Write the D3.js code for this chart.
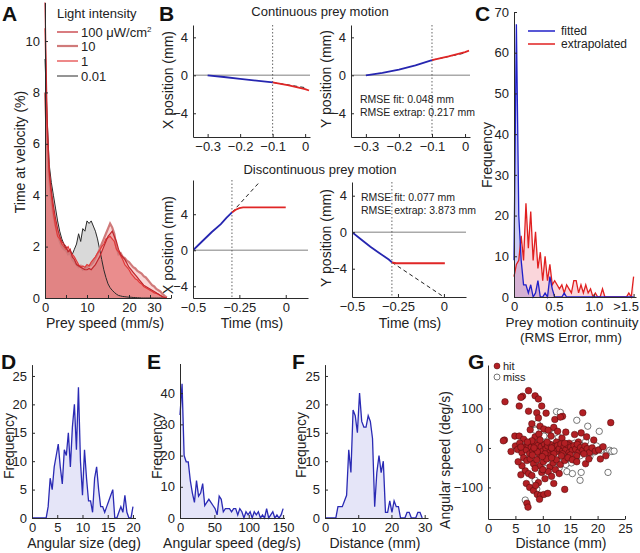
<!DOCTYPE html>
<html><head><meta charset="utf-8">
<script src="https://cdn.jsdelivr.net/npm/d3@7"></script>
<style>body{margin:0;background:#fff}svg{display:block}</style>
</head><body><svg id="c" width="640" height="553"></svg>
<script>
// ---------- DATA ----------
// Panel A: time at velocity (%) vs prey speed (mm/s), bins every 0.5 mm/s
const speedBins = d3.range(0, 29.01, 0.5);
const a100 = [11.5,7.0,5.0,4.2,3.6,3.1,2.7,2.4,2.2,2.1,2.0,1.8,1.9,1.6,1.5,1.3,1.25,1.2,1.15,1.1,1.1,1.15,1.1,1.2,1.3,1.45,1.6,1.8,2.0,2.2,2.4,2.5,2.6,2.4,2.2,1.9,1.7,1.6,1.5,1.35,1.2,1.1,1.0,0.9,0.8,0.7,0.6,0.5,0.45,0.4,0.35,0.3,0.25,0.2,0.15,0.1,0.05,0.02,0];
const a10 = [8.0,6.0,4.6,3.8,3.2,2.8,2.5,2.2,2.0,1.9,1.85,1.7,1.75,1.5,1.4,1.3,1.2,1.25,1.1,1.15,1.2,1.25,1.3,1.4,1.55,1.7,1.9,2.1,2.3,2.5,2.7,2.9,2.75,2.5,2.0,1.7,1.75,1.6,1.55,1.45,1.4,1.3,1.2,1.15,1.05,1.0,0.95,0.85,0.8,0.7,0.6,0.5,0.45,0.35,0.3,0.25,0.15,0.08,0.02];
const a1 = [10.5,6.5,4.8,4.0,3.3,2.8,2.4,2.3,2.1,2.0,1.9,2.0,1.8,1.7,1.6,1.45,1.3,1.2,1.25,1.2,1.3,1.25,1.4,1.5,1.6,1.75,1.85,2.0,2.1,2.3,2.35,2.4,2.3,2.2,1.9,1.8,1.65,1.5,1.3,1.2,1.1,0.95,0.85,0.75,0.7,0.6,0.55,0.45,0.4,0.35,0.3,0.25,0.2,0.18,0.15,0.1,0.05,0.02,0];
const a001 = [9.3,7.0,5.2,4.5,4.0,3.5,3.0,2.6,2.3,2.1,1.9,1.8,1.85,1.7,1.9,2.1,2.5,2.2,2.7,2.6,3.0,2.9,3.0,2.8,2.6,2.3,1.9,1.5,1.1,0.8,0.55,0.4,0.3,0.22,0.15,0.1,0.08,0.06,0.05,0.04,0.03,0.03,0.02,0.02,0.01,0.01,0,0,0,0,0,0,0,0,0,0,0,0,0];
const intensityLabels = ["100 μW/cm²","10","1","0.01"];
const aXTicks = [0,5,10,15,20,25,30], aXLabels = {0:"0",10:"10",20:"20",30:"30"};
const aYTicks = [0,2,4,6,8,10];

// Panel B: example trajectories (time ms, position mm)
const b1FitT = [-0.3,-0.25,-0.2,-0.15,-0.1], b1FitV = [0,-0.18,-0.38,-0.56,-0.75];
const b1ExtT = [-0.1,-0.05,0,0.012], b1ExtV = [-0.75,-1.05,-1.45,-1.6];
const b1DashT = [-0.1,0], b1DashV = [-0.75,-1.3];
const b2FitT = [-0.3,-0.25,-0.2,-0.15,-0.1], b2FitV = [0,0.25,0.6,1.05,1.6];
const b2ExtT = [-0.1,-0.05,0,0.012], b2ExtV = [1.6,2.0,2.45,2.6];
const b2DashT = [-0.1,0], b2DashV = [1.6,2.35];
const b3FitT = [-0.5,-0.45,-0.4,-0.35,-0.32,-0.29], b3FitV = [0,1.0,2.0,2.9,3.6,4.2];
const b3ExtT = [-0.29,-0.27,-0.25,-0.23,-0.2,-0.1,0], b3ExtV = [4.2,4.5,4.68,4.75,4.75,4.75,4.75];
const b3DashT = [-0.29,-0.14], b3DashV = [4.2,7.6];
const b4FitT = [-0.5,-0.45,-0.4,-0.35,-0.3,-0.283], b4FitV = [0,-0.8,-1.6,-2.3,-3.0,-3.3];
const b4ExtT = [-0.283,-0.26,-0.2,-0.1,0.005], b4ExtV = [-3.3,-3.4,-3.4,-3.4,-3.4];
const b4DashT = [-0.283,0], b4DashV = [-3.3,-7.1];
const bBreak = [-0.1,-0.1,-0.29,-0.283];
const rmseTexts = [["RMSE fit: 0.048 mm","RMSE extrap: 0.217 mm"],["RMSE fit: 0.077 mm","RMSE extrap: 3.873 mm"]];

// Panel C: RMS error histograms (bin width 0.03 mm, last bin >1.5)
const cBins = d3.range(0, 1.501, 0.03);
const cFitted = [9,67,20,9,3,3,1,3,0,1,4,0,0,1,0,5,2,0,0,0,0,1,0,0,0,0,0,0,0,0,0,0,0,0,0,0,0,0,0,0,0,0,0,0,0,0,0,0,0,0,0];
const cExtrap = [5,8,9,15,9,23,12,21,9,16,7,11,4,10,4,8,3,4,3,2,3,1,3,2,1,4,4,1,3,1,3,1,2,0,1,0,0,2,0,0,0,0,0,0,0,0,0,0,1,0,5];
const cXTicks = [0,0.5,1.0,1.5], cXLabels = ["0","0.5","1.0",">1.5"];
const cYTicks = [0,10,20,30,40,50,60,70];

// Panel D: angular size (deg)
const dBins = d3.range(0, 20.01, 0.4);
const dFreq = [0,0,0,0,0,0,0,0,2,7,5,9,11,13,9,6,12,11,15,9,16,20,12,23,10,4,12,7,3,3,1,7,9,5,2,2,1,2,3,4,5,0,0,1,2,1,4,1,0,0,2];
// Panel E: angular speed (deg/s)
const eBins = d3.range(0, 150.01, 3);
const eFreq = [33,43,20,18,18,12,8,5,12,7,8,11,4,5,6,5,4,3,1,7,6,2,3,3,3,2,3,3,1,3,2,0,2,1,2,0,2,1,2,0,1,0,3,0,1,2,0,1,0,1,3];
// Panel F: distance (mm)
const fBins = d3.range(0, 29.3, 0.65);
const fFreq = [0,0,0,0,0,0,2,2,2,3,4,12,8,19,18,15,22,17,16,16,18,17,14,2,8,11,8,10,1,1,3,1,3,2,2,0,0,0,1,1,0,0,0,1,1,0];

// Panel G: distance (mm) vs angular speed (deg/s)
const hitDist = [7.4,6.3,6.0,3.1,8.6,9.2,9.8,5.7,7.4,8.9,9.2,8.0,7.7,9.5,10.6,12.2,13.6,13.2,17.3,22.4,10.2,11.0,12.0,12.7,14.2,15.8,17.0,18.0,19.3,3.0,4.9,5.7,6.5,8.6,9.3,11.5,13.5,12.5,16.5,14.8,
 2.8,4.2,5.0,5.4,5.8,6.2,6.6,7.0,7.3,7.6,7.9,8.2,8.5,8.8,9.1,9.4,9.7,10.0,10.3,10.6,10.9,11.2,11.5,11.8,12.1,12.4,12.7,13.0,13.3,13.6,13.9,14.2,14.5,14.8,15.1,15.4,15.7,16.0,16.3,16.6,16.9,17.3,17.7,18.1,18.5,19.0,19.6,20.2,21.0,21.5,20.5,8.0,9.5,10.8,12.0,11.0,7.2,6.0,13.6,15.0,16.2,17.5,9.0,10.4,8.4,11.6,14.0,
 6.5,7.1,7.7,8.3,8.9,9.5,10.1,10.7,11.3,11.9,12.5,13.2,14.0,14.6,15.4,16.2,17.8,18.4,6.8,7.4,8.0,8.6,9.2,9.8,10.4,11.0,11.6,12.3,13.0,6.2,7.0,7.6,8.3,9.0,9.6,10.2,10.9,14.0,7.1,7.3,8.7,9.4,12.0,6.0,5.5,10.0,11.6,13.4,8.1,9.9];
const hitAng = [145,131,128,117,132,124,106,106,93,89,76,61,46,55,88,72,80,78,89,64,48,45,52,42,40,34,38,28,20,20,30,30,22,28,35,30,25,15,15,12,
 18,-9,5,-4,12,-12,3,-5,8,-15,2,-8,12,-3,6,-18,3,-8,10,-2,5,-12,8,-4,3,-10,6,-2,10,-8,4,-5,8,-12,2,-6,6,-3,9,-10,1,-6,5,-2,-12,0,-8,-5,3,-20,-28,18,20,15,-15,-20,15,2,-15,-18,-20,-15,-10,-15,0,0,12,
 -25,-32,-28,-40,-30,-45,-35,-28,-48,-38,-30,-42,-32,-25,-30,-35,-40,-28,-58,-65,-70,-52,-88,-62,-78,-60,-72,-55,-65,-45,-90,-100,-108,-118,-120,-118,-115,-105,-140,-150,-95,-130,-90,-68,-35,-55,-25,-20,-18,-22];
const missDist = [12.5,13.2,16.2,18.2,20.3,9.0,11.0,9.5,12.8,14.0,14.5,15.2,15.8,16.4,17.2,17.8,18.5,19.5,20.6,21.8,22.2,22.6,23.0,14.8,15.0,15.2,14.4,15.4,17.0,16.8,21.9,8.6,8.9,6.8,11.0,11.6,10.6,12.4,12.9,13.4,13.8,9.6,10.2,7.5,12.0,16.0,18.6,13.6,11.3,10.2,8.6,17.0,13.0,14.2,12.2,15.6,16.8,19.8];
const missAng = [92,90,70,55,42,62,38,48,28,10,5,2,12,-2,6,16,-6,-10,-6,-12,-6,-9,-8,-18,-25,-38,-60,-65,-62,-82,-62,-82,-104,-132,-8,-30,-52,-5,2,6,-3,8,-20,4,-45,-32,-22,-24,9,30,45,-12,-50,-42,38,0,-20,5];
const gXTicks = [0,5,10,15,20,25], gYTicks = [-100,0,100];

// ---------- DRAWING ----------
const FONT = "'Liberation Sans', Arial, Helvetica, sans-serif";
const svg = d3.select("#c");
svg.append("rect").attr("width",640).attr("height",553).attr("fill","#fff");
const INK = "#2b2b2b";

function axes(x, y, xTicks, yTicks, xFmt, yFmt) {
  const gx = svg.append("g").attr("transform", `translate(0,${y.range()[0]})`)
    .call(d3.axisBottom(x).tickValues(xTicks).tickFormat(xFmt || d3.format("")).tickSizeInner(-3).tickSizeOuter(0).tickPadding(5));
  const gy = svg.append("g").attr("transform", `translate(${x.range()[0]},0)`)
    .call(d3.axisLeft(y).tickValues(yTicks).tickFormat(yFmt || d3.format("")).tickSizeInner(-3).tickSizeOuter(0).tickPadding(5));
  [gx, gy].forEach(g => {
    g.select(".domain").attr("stroke", INK).attr("stroke-width", 1);
    g.selectAll(".tick line").attr("stroke", INK);
    g.selectAll("text").attr("font-size", 13).attr("fill", "#222").attr("font-family", FONT);
  });
  return [gx, gy];
}
function text(x, y, s, opts = {}) {
  const t = svg.append("text").attr("x", x).attr("y", y).text(s)
    .attr("font-family", FONT).attr("font-size", opts.size || 14).attr("fill", opts.fill || "#222")
    .attr("text-anchor", opts.anchor || "middle");
  if (opts.weight) t.attr("font-weight", opts.weight);
  if (opts.rotate) t.attr("transform", `rotate(-90,${x},${y})`);
  return t;
}
function letter(x, y, s) { text(x, y, s, {size: 21, weight: "bold", anchor: "start", fill: "#111"}); }

// ---- Panel A ----
{
  const x = d3.scaleLinear().domain([0, 30]).range([45, 171]);
  const y = d3.scaleLinear().domain([0, 11.5]).range([298, 2.5]);
  const series = [
    {v: a001, line: "#2a2a2a", fill: "#c0c0c0", op: 0.6, w: 1},
    {v: a10, line: "#d07a7a", fill: "#f2a5a5", op: 0.45, w: 2.2},
    {v: a1, line: "#e23a3a", fill: "#e45a5a", op: 0.35, w: 1.2},
    {v: a100, line: "#c0262c", fill: "#dd5a5a", op: 0.35, w: 1.2},
  ];
  const area = v => d3.area().x((d, i) => x(speedBins[i])).y0(y(0)).y1(d => y(d))(v);
  const line = v => d3.line().x((d, i) => x(speedBins[i])).y(d => y(d))(v);
  series.forEach(s => svg.append("path").attr("d", area(s.v)).attr("fill", s.fill).attr("fill-opacity", s.op));
  series.forEach(s => svg.append("path").attr("d", line(s.v)).attr("fill", "none").attr("stroke", s.line).attr("stroke-width", s.w));
  const [gx] = axes(x, y, aXTicks, aYTicks, d => aXLabels[d] !== undefined ? aXLabels[d] : "");
  gx.selectAll(".tick text").filter(d => d === 30).attr("dx", -17);
  text(105, 328, "Prey speed (mm/s)");
  text(25, 152, "Time at velocity (%)", {rotate: true});
  // legend
  text(57, 18, "Light intensity", {size: 13, anchor: "start"});
  const legOrder = [series[3], series[1], series[2], series[0]];
  const legY = [32, 46, 61, 76];
  legOrder.forEach((s, i) => {
    svg.append("line").attr("x1", 57).attr("x2", 78).attr("y1", legY[i]).attr("y2", legY[i]).attr("stroke", s.line).attr("stroke-width", s.w);
    const t = text(81, legY[i] + 4.5, "", {size: 13, anchor: "start"});
    if (i === 0) { t.text("100 μW/cm"); t.append("tspan").attr("dy", -5).attr("font-size", 8).text("2"); }
    else t.text(intensityLabels[i]);
  });
  letter(2, 21, "A");
}

// ---- Panel B ----
{
  const panels = [
    {xd: [-0.345, 0.015], xr: [193, 310], yd: [-6.5, 5.3], yr: [137, 25], xt: [-0.3,-0.2,-0.1,0], fit: [b1FitT,b1FitV], ext: [b1ExtT,b1ExtV], dash: [b1DashT,b1DashV], brk: bBreak[0]},
    {xd: [-0.345, 0.015], xr: [351, 470], yd: [-6.5, 5.3], yr: [137, 25], xt: [-0.3,-0.2,-0.1,0], fit: [b2FitT,b2FitV], ext: [b2ExtT,b2ExtV], dash: [b2DashT,b2DashV], brk: bBreak[1], rm: rmseTexts[0], rmY: 103},
    {xd: [-0.5, 0.12], xr: [193, 308], yd: [-5.3, 7.8], yr: [298, 180], xt: [-0.5,-0.25,0], fit: [b3FitT,b3FitV], ext: [b3ExtT,b3ExtV], dash: [b3DashT,b3DashV], brk: bBreak[2]},
    {xd: [-0.5, 0.12], xr: [352, 466], yd: [-7.1, 5.5], yr: [297, 182], xt: [-0.5,-0.25,0], fit: [b4FitT,b4FitV], ext: [b4ExtT,b4ExtV], dash: [b4DashT,b4DashV], brk: bBreak[3], rm: rmseTexts[1], rmY: 201},
  ];
  const fmt = d => d === 0 ? "0" : d3.format("")(d);
  panels.forEach(p => {
    const x = d3.scaleLinear().domain(p.xd).range(p.xr);
    const y = d3.scaleLinear().domain(p.yd).range(p.yr);
    const cid = "clipB" + p.xr[0] + p.yr[1];
    svg.append("clipPath").attr("id", cid).append("rect").attr("x", p.xr[0]).attr("y", p.yr[1]).attr("width", p.xr[1]-p.xr[0]).attr("height", p.yr[0]-p.yr[1]);
    const g = svg.append("g").attr("clip-path", `url(#${cid})`);
    g.append("line").attr("x1", p.xr[0]).attr("x2", p.xr[1]).attr("y1", y(0)).attr("y2", y(0)).attr("stroke", "#aaa").attr("stroke-width", 1.5);
    g.append("line").attr("x1", x(p.brk)).attr("x2", x(p.brk)).attr("y1", p.yr[1]).attr("y2", p.yr[0]).attr("stroke", "#555").attr("stroke-width", 0.9).attr("stroke-dasharray", "1.5,2");
    const ln = (T, V) => d3.line().x((d, i) => x(T[i])).y(d => y(d))(V);
    g.append("path").attr("d", ln(p.dash[0], p.dash[1])).attr("fill", "none").attr("stroke", "#222").attr("stroke-width", 1).attr("stroke-dasharray", "4,3");
    g.append("path").attr("d", ln(p.ext[0], p.ext[1])).attr("fill", "none").attr("stroke", "#e02626").attr("stroke-width", 1.8);
    g.append("path").attr("d", ln(p.fit[0], p.fit[1])).attr("fill", "none").attr("stroke", "#2626b0").attr("stroke-width", 1.8);
    axes(x, y, p.xt, [-4, 0, 4], fmt, fmt);
    if (p.rm) {
      text(p.xr[0] + 9, p.rmY, p.rm[0], {size: 10.5, anchor: "start"});
      text(p.xr[0] + 9, p.rmY + 13, p.rm[1], {size: 10.5, anchor: "start"});
    }
  });
  text(320, 16, "Continuous prey motion", {size: 13});
  text(320, 174, "Discontinuous prey motion", {size: 13});
  text(173, 80, "X position (mm)", {rotate: true});
  text(331, 79, "Y position (mm)", {rotate: true});
  text(173, 245, "X position (mm)", {rotate: true});
  text(331, 238, "Y position (mm)", {rotate: true});
  text(252, 328, "Time (ms)");
  text(410, 328, "Time (ms)");
  letter(159, 21, "B");
}

// ---- Panel C ----
{
  const x = d3.scaleLinear().domain([0, 1.53]).range([514, 636]);
  const y = d3.scaleLinear().domain([0, 70]).range([297, 12]);
  const area = v => d3.area().x((d, i) => x(cBins[i])).y0(y(0)).y1(d => y(d))(v);
  const line = v => d3.line().x((d, i) => x(cBins[i])).y(d => y(d))(v);
  svg.append("path").attr("d", area(cFitted)).attr("fill", "#6a6ae0").attr("fill-opacity", 0.35);
  svg.append("path").attr("d", area(cExtrap)).attr("fill", "#f07888").attr("fill-opacity", 0.3);
  svg.append("path").attr("d", line(cExtrap)).attr("fill", "none").attr("stroke", "#e02020").attr("stroke-width", 1.3);
  svg.append("path").attr("d", line(cFitted)).attr("fill", "none").attr("stroke", "#2020c8").attr("stroke-width", 1.3);
  const [gx] = axes(x, y, cXTicks, cYTicks, (d, i) => cXLabels[i]);
  gx.selectAll(".tick text").filter(d => d === 1.5).attr("dx", -8);
  text(572, 327, "Prey motion continuity", {size: 13.5});
  text(571, 342, "(RMS Error, mm)", {size: 13.5});
  text(492, 155, "Frequency", {rotate: true});
  [["fitted", "#2020c8", 31], ["extrapolated", "#e02020", 44]].forEach(([s, c, yy]) => {
    svg.append("line").attr("x1", 528).attr("x2", 555).attr("y1", yy).attr("y2", yy).attr("stroke", c).attr("stroke-width", 1.5);
    text(561, yy + 4, s, {size: 12, anchor: "start"});
  });
  letter(475, 21, "C");
}

// ---- Panels D, E, F ----
function hist(bins, vals, xd, xr, yd, yr, xt, yt) {
  const x = d3.scaleLinear().domain(xd).range(xr);
  const y = d3.scaleLinear().domain(yd).range(yr);
  svg.append("path").attr("d", d3.area().x((d, i) => x(bins[i])).y0(y(0)).y1(d => y(d))(vals)).attr("fill", "#dedef6").attr("fill-opacity", 0.8);
  svg.append("path").attr("d", d3.line().x((d, i) => x(bins[i])).y(d => y(d))(vals)).attr("fill", "none").attr("stroke", "#2a2ab4").attr("stroke-width", 1.3);
  axes(x, y, xt, yt);
}
hist(dBins, dFreq, [0, 20.5], [32, 135.5], [0, 27], [518, 364.6], [0,5,10,15,20], [0,5,10,15,20,25]);
text(84, 548, "Angular size (deg)");
text(14, 446, "Frequency", {rotate: true});
letter(1, 369, "D");

hist(eBins, eFreq, [0, 152], [180, 284.5], [0, 49.5], [518, 363.5], [0,50,100,150], [0,10,20,30,40]);
text(232, 548, "Angular speed (deg/s)");
text(162, 446, "Frequency", {rotate: true});
letter(147, 369, "E");

hist(fBins, fFreq, [0, 31], [325, 428], [0, 27], [518, 364.6], [0,10,20,30], [0,5,10,15,20,25]);
text(375, 548, "Distance (mm)");
text(306, 445, "Frequency", {rotate: true});
letter(292, 369, "F");

// ---- Panel G ----
{
  const x = d3.scaleLinear().domain([0, 25]).range([488, 625]);
  const y = d3.scaleLinear().domain([-180, 210]).range([519, 365]);
  svg.append("g").selectAll("circle").data(missDist).join("circle")
    .attr("cx", d => x(d)).attr("cy", (d, i) => y(missAng[i])).attr("r", 3.2)
    .attr("fill", "#fff").attr("stroke", "#555").attr("stroke-width", 0.8);
  svg.append("g").selectAll("circle").data(hitDist).join("circle")
    .attr("cx", d => x(d)).attr("cy", (d, i) => y(hitAng[i])).attr("r", 3.3)
    .attr("fill", "#b21f24").attr("stroke", "#4a0a0a").attr("stroke-width", 0.5);
  axes(x, y, gXTicks, gYTicks);
  svg.append("circle").attr("cx", 497).attr("cy", 366).attr("r", 3).attr("fill", "#b21f24").attr("stroke", "#4a0a0a").attr("stroke-width", 0.5);
  svg.append("circle").attr("cx", 497).attr("cy", 377).attr("r", 3).attr("fill", "#fff").attr("stroke", "#555").attr("stroke-width", 0.8);
  text(503, 369.5, "hit", {size: 11, anchor: "start"});
  text(503, 380.5, "miss", {size: 11, anchor: "start"});
  text(561, 548, "Distance (mm)");
  text(450, 460, "Angular speed (deg/s)", {rotate: true});
  letter(468, 369, "G");
}
</script></body></html>
